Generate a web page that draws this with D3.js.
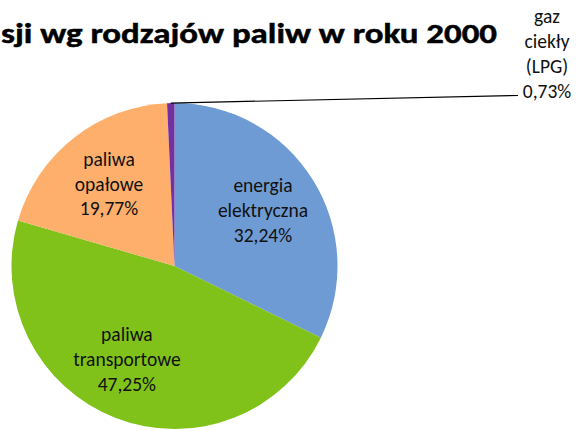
<!DOCTYPE html>
<html>
<head>
<meta charset="utf-8">
<script src="https://cdn.jsdelivr.net/npm/d3@7"></script>
<style>
  html, body { margin: 0; padding: 0; background: #ffffff; overflow: hidden; }
  svg { display: block; }
</style>
</head>
<body>
<svg id="chart" width="577" height="430"></svg>
<script>
// ---- data ----
const titleText = "sji wg rodzajów paliw w roku 2000";
const categories = ["energia elektryczna", "paliwa transportowe", "paliwa opałowe", "gaz ciekły (LPG)"];
const labelLines = [["energia", "elektryczna"], ["paliwa", "transportowe"], ["paliwa", "opałowe"], ["gaz", "ciekły", "(LPG)"]];
const values = [32.24, 47.25, 19.77, 0.73];
const valueLabels = ["32,24%", "47,25%", "19,77%", "0,73%"];
const colors = ["#6f9bd4", "#80c11a", "#fdaf6b", "#7230a0"];

// ---- layout ----
const W = 577, H = 430;
const cx = 174.5, cy = 266, R = 163;
const FONT = "Carlito, Lato, 'Open Sans', sans-serif";
const svg = d3.select("#chart");

const pie = d3.pie().sort(null).value(d => d)(values);
const arc = d3.arc().innerRadius(0).outerRadius(R);

const g = svg.append("g").attr("transform", `translate(${cx},${cy})`);
g.selectAll("path.slice").data(pie).join("path")
  .attr("class", "slice")
  .attr("d", arc)
  .attr("fill", (d, i) => colors[i]);

// inside labels (first three)
const labelArc = d3.arc().innerRadius(R * 0.64).outerRadius(R * 0.64);
const nudge = [[0, -0.5], [-10, -4], [-1, 0]];
const lh = 24.8;
for (let i = 0; i < 3; i++) {
  const [x, y] = labelArc.centroid(pie[i]);
  const lines = labelLines[i].concat([valueLabels[i]]);
  const t = g.append("text")
    .attr("font-family", FONT)
    .attr("font-size", 19.5)
    .attr("fill", "#111")
    .attr("text-anchor", "middle");
  lines.forEach((s, k) => {
    t.append("tspan")
      .attr("x", x + nudge[i][0])
      .attr("y", y + nudge[i][1] + (k - (lines.length - 1) / 2) * lh + 6.5)
      .text(s);
  });
}

// outside label for LPG with leader line
const lpg = pie[3];
const edgeAngle = (lpg.startAngle + lpg.endAngle) / 2;
const p0 = [cx + Math.sin(edgeAngle) * R, cy - Math.cos(edgeAngle) * R];
const lx = 547, lyLast = 91;
svg.append("line")
  .attr("x1", p0[0]).attr("y1", p0[1])
  .attr("x2", 518).attr("y2", 95.5)
  .attr("stroke", "#000").attr("stroke-width", 1.2);
const lpgLines = labelLines[3].concat([valueLabels[3]]);
const t2 = svg.append("text")
  .attr("font-family", FONT).attr("font-size", 19.5)
  .attr("fill", "#111").attr("text-anchor", "middle");
lpgLines.forEach((s, k) => {
  t2.append("tspan").attr("x", lx)
    .attr("y", lyLast - (lpgLines.length - 1 - k) * lh + 6.5)
    .text(s);
});

// title
svg.append("text")
  .attr("font-family", FONT)
  .attr("font-weight", 700)
  .attr("font-size", 29)
  .attr("fill", "#000")
  .attr("stroke", "#000")
  .attr("stroke-width", 0.5)
  .attr("x", 1).attr("y", 43)
  .attr("textLength", 496)
  .attr("lengthAdjust", "spacingAndGlyphs")
  .text(titleText);
</script>
</body>
</html>
